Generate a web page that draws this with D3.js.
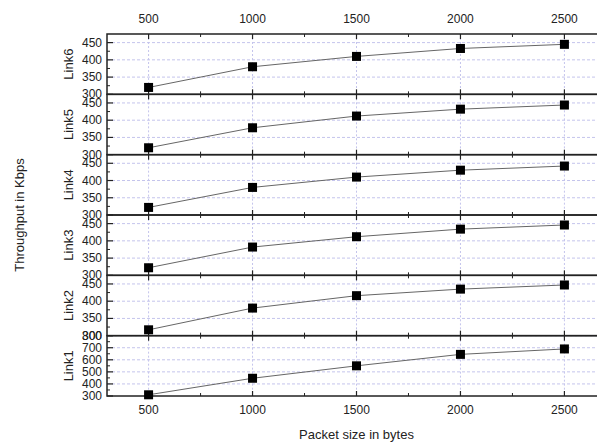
<!DOCTYPE html>
<html>
<head>
<meta charset="utf-8">
<script src="https://cdn.jsdelivr.net/npm/d3@7"></script>
<style>
  body { margin: 0; background: #fff; }
  text { font-family: "Liberation Sans", Arial, sans-serif; fill: #222; }
</style>
</head>
<body>
<div id="chart"></div>
<script>
// packet sizes (x) and throughput per link (y)
var packetSizes = [500, 1000, 1500, 2000, 2500];
var link6 = [320, 380, 410, 433, 445];
var link5 = [320, 378, 412, 432, 444];
var link4 = [322, 380, 410, 430, 442];
var link3 = [322, 382, 412, 434, 446];
var link2 = [317, 380, 416, 435, 447];
var link1 = [310, 447, 550, 645, 690];
var linkNames = ["Link6", "Link5", "Link4", "Link3", "Link2", "Link1"];
var xTicks = [500, 1000, 1500, 2000, 2500];
var smallTicks = [300, 350, 400, 450];
var bigTicks = [300, 400, 500, 600, 700, 800];

var panels = [
  {name: linkNames[0], values: link6, domain: [300, 475], ticks: smallTicks, step: 25},
  {name: linkNames[1], values: link5, domain: [300, 475], ticks: smallTicks, step: 25},
  {name: linkNames[2], values: link4, domain: [300, 475], ticks: smallTicks, step: 25},
  {name: linkNames[3], values: link3, domain: [300, 475], ticks: smallTicks, step: 25},
  {name: linkNames[4], values: link2, domain: [300, 475], ticks: smallTicks, step: 25},
  {name: linkNames[5], values: link1, domain: [300, 800], ticks: bigTicks, step: 50}
];

var svgWidth = 597, svgHeight = 444;
var margin = {top: 34, left: 107, bottom: 48};
var plotRight = 606;
var panelH = (svgHeight - margin.top - margin.bottom) / panels.length;

var svg = d3.select("#chart")
  .append("svg")
  .attr("width", svgWidth)
  .attr("height", svgHeight);

var x = d3.scaleLinear()
  .domain([300, 2700])
  .range([margin.left, plotRight]);

var minorX = d3.range(750, 2700, 500);

panels.forEach(function(p, i) {
  var top = margin.top + i * panelH;
  var bottom = top + panelH;
  var y = d3.scaleLinear().domain(p.domain).range([bottom, top]);
  var g = svg.append("g");

  // grid lines
  p.ticks.slice(1).forEach(function(t) {
    g.append("line")
      .attr("x1", margin.left).attr("x2", plotRight)
      .attr("y1", y(t)).attr("y2", y(t))
      .attr("stroke", "#c4c4ec").attr("stroke-width", 1)
      .attr("stroke-dasharray", "3,2");
  });
  xTicks.forEach(function(t) {
    g.append("line")
      .attr("x1", x(t)).attr("x2", x(t))
      .attr("y1", top).attr("y2", bottom)
      .attr("stroke", "#c4c4ec").attr("stroke-width", 1)
      .attr("stroke-dasharray", "2,2");
  });

  // y ticks (inside)
  var minorY = d3.range(p.domain[0] + p.step, p.domain[1], p.step * 2);
  p.ticks.forEach(function(t) {
    g.append("line")
      .attr("x1", margin.left).attr("x2", margin.left + 6)
      .attr("y1", y(t)).attr("y2", y(t))
      .attr("stroke", "#222").attr("stroke-width", 1.2);
    g.append("text")
      .attr("x", margin.left - 5).attr("y", y(t) + 4)
      .attr("text-anchor", "end")
      .attr("font-size", 12)
      .text(t);
  });
  minorY.forEach(function(t) {
    g.append("line")
      .attr("x1", margin.left).attr("x2", margin.left + 3)
      .attr("y1", y(t)).attr("y2", y(t))
      .attr("stroke", "#222").attr("stroke-width", 1);
  });

  // x ticks on top and bottom edges of each panel
  xTicks.forEach(function(t) {
    g.append("line").attr("x1", x(t)).attr("x2", x(t))
      .attr("y1", top).attr("y2", top + 5).attr("stroke", "#222").attr("stroke-width", 1.2);
    g.append("line").attr("x1", x(t)).attr("x2", x(t))
      .attr("y1", bottom).attr("y2", bottom - 5).attr("stroke", "#222").attr("stroke-width", 1.2);
  });
  minorX.forEach(function(t) {
    g.append("line").attr("x1", x(t)).attr("x2", x(t))
      .attr("y1", top).attr("y2", top + 3).attr("stroke", "#222");
    g.append("line").attr("x1", x(t)).attr("x2", x(t))
      .attr("y1", bottom).attr("y2", bottom - 3).attr("stroke", "#222");
  });

  // frame
  g.append("rect")
    .attr("x", margin.left).attr("y", top)
    .attr("width", plotRight - margin.left).attr("height", panelH)
    .attr("fill", "none").attr("stroke", "#222").attr("stroke-width", 1.5);

  // data line + markers
  var line = d3.line()
    .x(function(d, k) { return x(packetSizes[k]); })
    .y(function(d) { return y(d); });
  g.append("path")
    .datum(p.values)
    .attr("d", line)
    .attr("fill", "none")
    .attr("stroke", "#666")
    .attr("stroke-width", 1);
  g.selectAll("rect.pt")
    .data(p.values)
    .enter()
    .append("rect")
    .attr("class", "pt")
    .attr("x", function(d, k) { return x(packetSizes[k]) - 4.5; })
    .attr("y", function(d) { return y(d) - 4.5; })
    .attr("width", 9).attr("height", 9)
    .attr("fill", "#000");

  // panel name
  g.append("text")
    .attr("transform", "translate(" + 73 + "," + (top + panelH / 2) + ")rotate(-90)")
    .attr("text-anchor", "middle")
    .attr("font-size", 13)
    .text(p.name);
});

// top and bottom x labels
xTicks.forEach(function(t) {
  svg.append("text")
    .attr("x", x(t)).attr("y", 23)
    .attr("text-anchor", "middle").attr("font-size", 12)
    .text(t);
  svg.append("text")
    .attr("x", x(t)).attr("y", svgHeight - margin.bottom + 18)
    .attr("text-anchor", "middle").attr("font-size", 12)
    .text(t);
});

// axis titles
svg.append("text")
  .attr("x", x(1500)).attr("y", 439)
  .attr("text-anchor", "middle").attr("font-size", 13)
  .text("Packet size in bytes");

svg.append("text")
  .attr("transform", "translate(24," + 215 + ")rotate(-90)")
  .attr("text-anchor", "middle").attr("font-size", 13)
  .text("Throughput in Kbps");
</script>
</body>
</html>
